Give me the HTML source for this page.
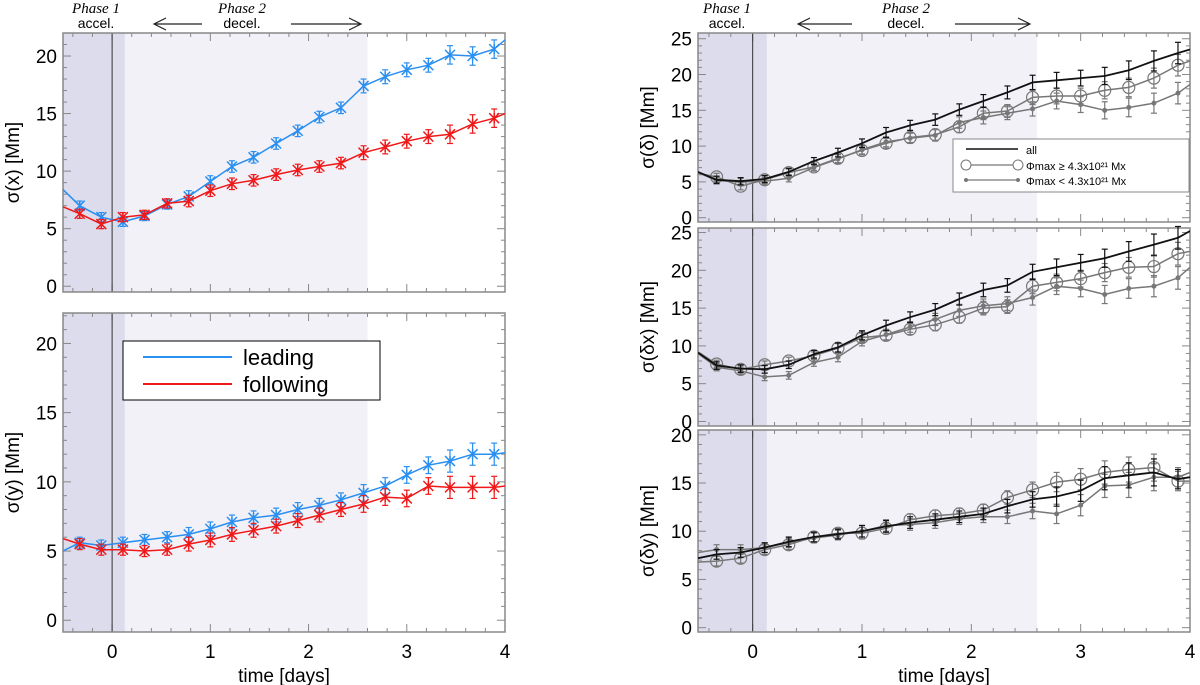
<!DOCTYPE html>
<html><head><meta charset="utf-8"><style>
html,body{margin:0;padding:0;background:#fff}
svg{display:block;font-family:"Liberation Sans",sans-serif}
</style></head><body>
<svg id="fig" width="1200" height="685" viewBox="0 0 1200 685"></svg>
<script>
const times=[-0.33,-0.11,0.11,0.33,0.56,0.78,1.0,1.22,1.44,1.67,1.89,2.11,2.33,2.56,2.78,3.0,3.22,3.44,3.67,3.89];
const sxLeading=[8.4,7.0,6.0,5.6,6.1,7.1,7.8,9.1,10.4,11.2,12.4,13.5,14.7,15.5,17.4,18.2,18.8,19.2,20.1,20.0,20.6,21.4];
const sxFollowing=[6.9,6.3,5.4,6.0,6.2,7.2,7.4,8.3,8.9,9.2,9.7,10.1,10.4,10.7,11.6,12.1,12.6,13.0,13.2,14.1,14.6,15.0];
const syLeading=[5.0,5.6,5.4,5.6,5.8,6.0,6.2,6.6,7.1,7.4,7.6,8.0,8.3,8.7,9.2,9.7,10.5,11.2,11.5,12.0,12.0,12.1];
const syFollowing=[5.9,5.5,5.1,5.1,5.0,5.1,5.5,5.8,6.2,6.5,6.8,7.2,7.6,8.0,8.4,8.9,8.8,9.7,9.6,9.6,9.6,9.7];
const errLeft=[0.4,0.4,0.4,0.4,0.4,0.4,0.5,0.5,0.5,0.5,0.5,0.5,0.5,0.5,0.6,0.6,0.6,0.6,0.8,0.8,0.8,0.8];
const sdAll=[6.4,5.3,5.1,5.4,6.4,7.9,9.1,10.4,11.9,12.9,13.7,15.1,16.3,17.5,18.9,19.2,19.5,19.8,20.6,21.9,23.0,23.5];
const sdBig=[6.2,5.7,4.4,5.3,6.3,7.1,8.3,9.4,10.4,11.2,11.6,12.7,14.6,14.9,16.8,17.0,17.0,17.8,18.2,19.5,21.3,21.9];
const sdSmall=[6.3,5.2,5.0,5.1,5.5,7.0,8.2,9.5,10.6,11.1,11.5,13.3,14.0,14.6,15.2,16.3,15.8,15.0,15.4,16.0,17.4,18.6];
const sdxAll=[9.1,7.4,7.0,6.9,7.5,8.9,9.8,11.4,12.7,13.8,14.8,16.2,17.4,18.0,19.8,20.4,21.0,21.6,22.5,23.4,24.3,25.2];
const sdxBig=[9.2,7.6,6.9,7.5,8.0,8.7,9.7,11.1,11.4,12.2,12.8,13.8,15.0,15.2,17.9,18.4,18.9,19.7,20.4,20.5,22.2,22.5];
const sdxSmall=[9.0,7.2,6.7,5.9,6.1,7.8,8.5,10.6,11.5,12.5,13.5,14.7,15.3,15.6,16.4,17.9,17.6,16.8,17.6,17.9,19.0,20.4];
const sdyAll=[7.2,7.6,7.8,8.3,8.9,9.4,9.7,10.0,10.5,10.9,11.2,11.5,11.8,12.6,13.3,13.6,14.2,15.5,15.8,16.1,15.4,15.6];
const sdyBig=[6.8,6.9,7.2,8.1,8.6,9.4,9.8,9.8,10.3,11.2,11.6,11.8,12.2,13.5,14.3,15.1,15.4,16.1,16.4,16.6,15.2,15.2];
const sdySmall=[7.8,8.1,8.1,8.3,8.8,9.3,9.6,10.0,10.6,10.7,10.9,11.3,11.5,11.5,12.1,11.8,12.7,14.7,14.8,15.6,15.6,16.1];
const errRight=[0.5,0.5,0.5,0.5,0.5,0.5,0.6,0.6,0.7,0.7,0.8,0.8,0.9,0.9,1.0,1.1,1.1,1.2,1.3,1.4,1.5,1.5];
const errRightY=[0.5,0.5,0.5,0.5,0.5,0.5,0.5,0.6,0.6,0.6,0.6,0.6,0.6,0.7,0.8,1.0,1.1,1.2,1.3,1.4,1.0,1.0];
const xTicks=[0,1,2,3,4];

const svg=document.getElementById('fig');
const NS='http://www.w3.org/2000/svg';
function el(tag,attrs,parent){const e=document.createElementNS(NS,tag);for(const k in attrs)e.setAttribute(k,attrs[k]);(parent||svg).appendChild(e);return e;}
const allT=[-0.5].concat(times,[4]);

function panel(name,L,R,T,B,ymin,ymax,yTicks,ylabel,showX){
  const g=el('g',{});
  
  
  const sx=t=>L+(t+0.5)/4.5*(R-L);
  const sy=v=>B-(v-ymin)/(ymax-ymin)*(B-T);
  const s1=el('rect',{x:L,y:T,width:sx(0.13)-L,height:B-T,fill:'#dcdcec'},g);
  
  const s2=el('rect',{x:sx(0.13),y:T,width:sx(2.6)-sx(0.13),height:B-T,fill:'#f2f1f8'},g);
  
  for(let t=-0.4;t<4;t+=0.2){const x=sx(+t.toFixed(1));const maj=Math.abs(t-Math.round(t))<0.01;const l=maj?8:4;
    el('line',{x1:x,x2:x,y1:B,y2:B-l,stroke:'#888','stroke-width':1},g);el('line',{x1:x,x2:x,y1:T,y2:T+l,stroke:'#888','stroke-width':1},g);}
  for(let v=Math.ceil(ymin);v<=ymax;v++){const y=sy(v);const maj=yTicks.includes(v);const l=maj?8:4;
    el('line',{x1:L,x2:L+l,y1:y,y2:y,stroke:'#888'},g);el('line',{x1:R,x2:R-l,y1:y,y2:y,stroke:'#888'},g);}
  yTicks.forEach(v=>{const tx=el('text',{x:L-6,y:sy(v)+7,'text-anchor':'end','font-size':19,fill:'#000'},g);tx.textContent=v;
    });
  if(showX){xTicks.forEach(v=>{const tx=el('text',{x:sx(v),y:B+26,'text-anchor':'middle','font-size':19},g);tx.textContent=v;
    });
    const xt=el('text',{x:(L+R)/2,y:B+50,'text-anchor':'middle','font-size':19},g);xt.textContent='time [days]';
    }
  const yl=el('text',{x:0,y:0,'text-anchor':'middle','font-size':19,transform:`translate(${L-44},${(T+B)/2}) rotate(-90)`},g);yl.textContent=ylabel;
  
  const vl=el('line',{x1:sx(0),x2:sx(0),y1:T,y2:B,stroke:'#333','stroke-width':1},g);
  
  const fr=el('rect',{x:L,y:T,width:R-L,height:B-T,fill:'none',stroke:'#888','stroke-width':1.5},g);
  
  return {g,sx,sy,L,R,T,B};
}
function series(p,vals,errs,color,marker,name,width){
  const g=el('g',{},p.g);
  
  
  const cp=el('clipPath',{id:'c'+name},g);el('rect',{x:p.L,y:p.T,width:p.R-p.L,height:p.B-p.T},cp);
  const pts=allT.map((t,i)=>p.sx(t).toFixed(1)+','+p.sy(vals[i]).toFixed(1)).join(' ');
  const pl=el('polyline',{points:pts,fill:'none',stroke:color,'stroke-width':width||1.5,'clip-path':`url(#c${name})`},g);
  
  times.forEach((t,j)=>{const i=j+1;const x=p.sx(t),y=p.sy(vals[i]);const e=errs[i];
    const y1=p.sy(vals[i]+e),y2=p.sy(vals[i]-e);
    el('line',{x1:x,x2:x,y1:y1,y2:y2,stroke:color,'stroke-width':1.2},g);
    el('line',{x1:x-3,x2:x+3,y1:y1,y2:y1,stroke:color,'stroke-width':1.2},g);
    el('line',{x1:x-3,x2:x+3,y1:y2,y2:y2,stroke:color,'stroke-width':1.2},g);
    if(marker==='x'){const m=el('path',{d:`M${x-5},${y-5}L${x+5},${y+5}M${x-5},${y+5}L${x+5},${y-5}M${x},${y-5}L${x},${y+5}`,stroke:color,'stroke-width':1.5},g);
      }
    else if(marker==='o'){const m=el('circle',{cx:x,cy:y,r:6,fill:'none',stroke:color,'stroke-width':1.2},g);
      }
    else if(marker==='.'){const m=el('circle',{cx:x,cy:y,r:2.5,fill:color},g);
      }
  });
}
const BL='#2a8ff0',RD='#f01818';
const p1=panel('panel-sigma-x',63,505,33,292,-0.5,22,[0,5,10,15,20],'σ(x)  [Mm]',false);
series(p1,sxLeading,errLeft,BL,'x','leading-x');series(p1,sxFollowing,errLeft,RD,'x','following-x');
const p2=panel('panel-sigma-y',63,505,313,632,-0.85,22.2,[0,5,10,15,20],'σ(y)  [Mm]',true);
series(p2,syLeading,errLeft,BL,'x','leading-y');series(p2,syFollowing,errLeft,RD,'x','following-y');
const lg=el('g',{});
el('rect',{x:123,y:341,width:257,height:59,fill:'#fff',stroke:'#000','stroke-width':1},lg);
el('line',{x1:143,x2:232,y1:357,y2:357,stroke:BL,'stroke-width':2},lg);
el('line',{x1:143,x2:232,y1:384,y2:384,stroke:RD,'stroke-width':2},lg);
let t1=el('text',{x:243,y:365,'font-size':22},lg);t1.textContent='leading';
let t2=el('text',{x:243,y:392,'font-size':22},lg);t2.textContent='following';

const GR='#777';
const p3=panel('panel-sigma-delta',698,1190,33,222,-0.6,25.8,[0,5,10,15,20,25],'σ(δ)  [Mm]',false);
series(p3,sdBig,errRight,GR,'o','big-delta');series(p3,sdSmall,errRight,GR,'.','small-delta');series(p3,sdAll,errRight,'#111','','all-delta',1.8);
const p4=panel('panel-sigma-deltax',698,1190,228,426,-0.6,25.6,[0,5,10,15,20,25],'σ(δx)  [Mm]',false);
series(p4,sdxBig,errRight,GR,'o','big-deltax');series(p4,sdxSmall,errRight,GR,'.','small-deltax');series(p4,sdxAll,errRight,'#111','','all-deltax',1.8);
const p5=panel('panel-sigma-deltay',698,1190,430,632,-0.45,20.5,[0,5,10,15,20],'σ(δy)  [Mm]',true);
series(p5,sdyBig,errRightY,GR,'o','big-deltay');series(p5,sdySmall,errRightY,GR,'.','small-deltay');series(p5,sdyAll,errRightY,'#111','','all-deltay',1.8);
const lr=el('g',{});
el('rect',{x:953,y:139,width:236,height:53,fill:'#fff',stroke:'#888'},lr);
el('line',{x1:966,x2:1018,y1:149,y2:149,stroke:'#111','stroke-width':1.5},lr);
el('line',{x1:966,x2:1018,y1:165,y2:165,stroke:GR,'stroke-width':1.2},lr);
el('circle',{cx:966,cy:165,r:5,fill:'#fff',stroke:GR},lr);el('circle',{cx:1018,cy:165,r:5,fill:'#fff',stroke:GR},lr);
el('line',{x1:966,x2:1018,y1:180,y2:180,stroke:GR,'stroke-width':1.2},lr);
el('circle',{cx:966,cy:180,r:2,fill:GR},lr);el('circle',{cx:1018,cy:180,r:2,fill:GR},lr);
[['all',154],['Φmax ≥ 4.3x10²¹ Mx',170],['Φmax < 4.3x10²¹ Mx',185]].forEach(([s,y])=>{const t=el('text',{x:1026,y:y,'font-size':11},lr);t.textContent=s;
  });
function phase(x1,x2,x3,x4,px,dx){
  const g=el('g',{});
  const a=el('text',{x:px,y:13,'text-anchor':'middle','font-size':15,'font-style':'italic','font-family':'"Liberation Serif",serif'},g);a.textContent='Phase 1';
  const b=el('text',{x:px,y:28,'text-anchor':'middle','font-size':14},g);b.textContent='accel.';
  const c=el('text',{x:dx,y:13,'text-anchor':'middle','font-size':15,'font-style':'italic','font-family':'"Liberation Serif",serif'},g);c.textContent='Phase 2';
  const d=el('text',{x:dx,y:28,'text-anchor':'middle','font-size':14},g);d.textContent='decel.';
  el('path',{d:`M${x1},24H${x2}M${x1+12},18L${x1},24L${x1+12},30M${x3},24H${x4}M${x4-12},18L${x4},24L${x4-12},30`,stroke:'#222','stroke-width':1.2,fill:'none'},g);
}
phase(154,202,291,361,96,242);
phase(798,852,955,1030,727,906);
</script>
</body></html>
